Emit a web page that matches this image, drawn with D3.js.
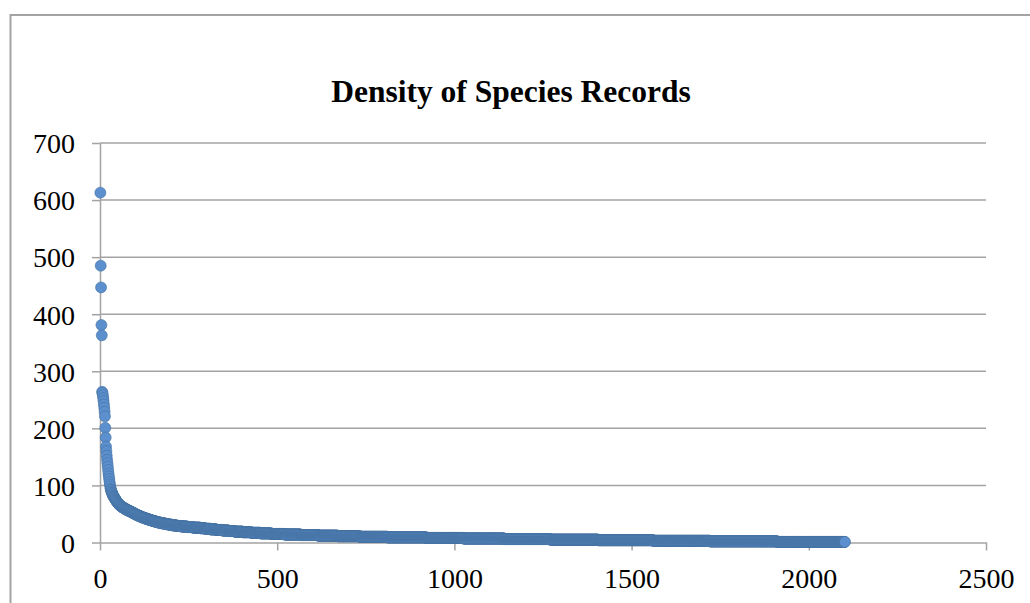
<!DOCTYPE html>
<html>
<head>
<meta charset="utf-8">
<script src="https://cdn.jsdelivr.net/npm/d3@7"></script>
<style>
  html, body { margin: 0; padding: 0; background: #fff; }
  svg { display: block; }
</style>
</head>
<body>
<svg id="chart" width="1030" height="603"></svg>
<script>
// records of the most abundant species, rank 1 onwards
const headRecords = [
  613, 485, 447, 381, 363, 264, 262, 258, 253, 248, 242, 236, 229, 221, 201,
  184, 168, 160, 152, 145, 139, 133, 127, 121, 116, 111, 106, 102, 98, 94,
  92, 90, 88, 87, 85, 84, 82, 81, 80, 79, 78, 77, 76, 75, 74, 73, 72, 71,
  70, 70, 69, 68, 67, 67, 66, 65, 65, 64, 64, 63, 63, 62, 62, 62, 61, 61, 61
];

// the long tail: record value and how many species share it
const tailRecords = [
  60, 59, 58, 57, 56, 55, 54, 53, 52, 51, 50, 49, 48, 47, 46, 45, 44, 43, 42, 41,
  40, 39, 38, 37, 36, 35, 34, 33, 32, 31, 30, 29, 28, 27, 26, 25, 24, 23, 22, 21,
  20, 19, 18, 17, 16, 15, 14, 13, 12, 11, 10, 9, 8, 7, 6, 5, 4, 3, 2, 1
];
const tailSpecies = [
  2, 3, 3, 3, 3, 4, 3, 3, 3, 3, 3, 3, 4, 3, 4, 4, 4, 5, 4, 5,
  5, 5, 6, 5, 6, 7, 8, 8, 9, 9, 11, 14, 16, 17, 20, 14, 15, 16, 18, 17,
  18, 22, 24, 26, 30, 38, 45, 50, 55, 62, 78, 110, 105, 115, 130, 135, 155, 160, 190, 192
];

const xTicks = [0, 500, 1000, 1500, 2000, 2500];
const yTicks = [0, 100, 200, 300, 400, 500, 600, 700];
const title = "Density of Species Records";

// rank / records pairs
const points = headRecords.map((v, i) => ({ rank: i + 1, records: v }));
tailRecords.forEach((v, i) => {
    for (let k = 0; k < tailSpecies[i]; k++) {
        points.push({ rank: points.length + 1, records: v });
    }
});

const svg = d3.select("#chart");
const gray = "#a3a3a3";
const serif = "'Liberation Serif', 'Times New Roman', serif";

const x = d3.scaleLinear().domain([0, 2500]).range([100, 986]);
const y = d3.scaleLinear().domain([0, 700]).range([542.5, 143]);

// outer chart frame (runs off the picture on the right and bottom)
svg.append("rect")
    .attr("x", 10.5)
    .attr("y", 15)
    .attr("width", 1040)
    .attr("height", 620)
    .attr("fill", "none")
    .attr("stroke", gray)
    .attr("stroke-width", 2);

svg.append("text")
    .attr("x", 511)
    .attr("y", 102)
    .attr("text-anchor", "middle")
    .style("font-family", serif)
    .style("font-weight", "bold")
    .style("font-size", "31.5px")
    .text(title);

// horizontal gridlines
svg.append("g")
    .selectAll("line")
    .data(yTicks.filter(d => d > 0))
    .enter().append("line")
    .attr("x1", x(0))
    .attr("x2", x(2500))
    .attr("y1", d => y(d))
    .attr("y2", d => y(d))
    .attr("stroke", gray)
    .attr("stroke-width", 1.5);

const yAxis = svg.append("g")
    .attr("transform", `translate(${x(0)},0)`)
    .call(d3.axisLeft(y).tickValues(yTicks).tickSize(8).tickPadding(17).tickSizeOuter(0));

const xAxis = svg.append("g")
    .attr("transform", `translate(0,${y(0)})`)
    .call(d3.axisBottom(x).tickValues(xTicks).tickFormat(d3.format("d"))
        .tickSize(8).tickPadding(14).tickSizeOuter(0));

[yAxis, xAxis].forEach(g => {
    g.select(".domain").attr("stroke", gray).attr("stroke-width", 1.5);
    g.selectAll(".tick line").attr("stroke", gray).attr("stroke-width", 1.5);
    g.selectAll(".tick text")
        .attr("fill", "#000")
        .style("font-family", serif)
        .style("font-size", "28px");
});
xAxis.selectAll(".tick text").attr("dy", "0.85em");
yAxis.selectAll(".tick text").attr("dy", "0.35em");

svg.append("g")
    .selectAll("circle")
    .data(points)
    .enter().append("circle")
    .attr("cx", d => x(d.rank))
    .attr("cy", d => y(d.records))
    .attr("r", 5.5)
    .attr("fill", "#5b8fcd")
    .attr("stroke", "#44709f")
    .attr("stroke-width", 0.6);
</script>
</body>
</html>
